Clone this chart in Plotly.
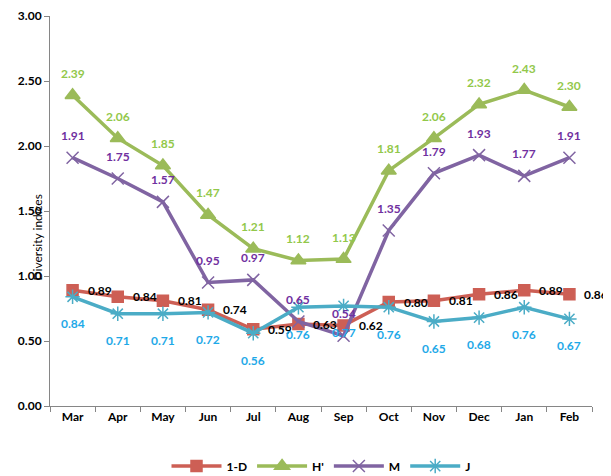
import plotly.graph_objects as go

months = ["Mar", "Apr", "May", "Jun", "Jul", "Aug", "Sep", "Oct", "Nov", "Dec", "Jan", "Feb"]
d1 = [0.89, 0.84, 0.81, 0.74, 0.59, 0.63, 0.62, 0.80, 0.81, 0.86, 0.89, 0.86]
h = [2.39, 2.06, 1.85, 1.47, 1.21, 1.12, 1.13, 1.81, 2.06, 2.32, 2.43, 2.30]
m = [1.91, 1.75, 1.57, 0.95, 0.97, 0.65, 0.54, 1.35, 1.79, 1.93, 1.77, 1.91]
j = [0.84, 0.71, 0.71, 0.72, 0.56, 0.76, 0.77, 0.76, 0.65, 0.68, 0.76, 0.67]
yticks = [0.0, 0.5, 1.0, 1.5, 2.0, 2.5, 3.0]

FONT = "Lato"

series = [
    ("1-D", d1, "#CD5F55", "square", 11, "#000000", 27, 0),
    ("H'", h, "#9BBB59", "triangle-up", 13, "#92C84A", 0, 22),
    ("M", m, "#8064A2", "x-thin-open", 12, "#7030A0", 0, 22),
    ("J", j, "#4BACC6", "asterisk-open", 12, "#1EA9E8", 0, -27),
]

fig = go.Figure()
annotations = []
for name, vals, color, sym, size, lcol, xs, ys in series:
    fig.add_trace(go.Scatter(
        x=months, y=vals, name=name, mode="lines+markers",
        line=dict(color=color, width=3.5),
        marker=dict(symbol=sym, size=size, color=color,
                    line=dict(color=color, width=1.5)),
        cliponaxis=False,
    ))
    for mo, v in zip(months, vals):
        annotations.append(dict(
            x=mo, y=v, xref="x", yref="y", text=f"{v:.2f}", showarrow=False,
            xshift=xs, yshift=ys,
            font=dict(family=FONT, size=12, color=lcol, weight="bold"),
        ))

annotations.append(dict(
    x=-0.041, y=0.433, xref="paper", yref="paper", text="Diversity indices",
    showarrow=False, textangle=-90,
    font=dict(family=FONT, size=12, color="#000000"),
))

# page body has an 8px default margin; size the figure to fit the 611x476 window
fig.update_layout(
    width=603, height=468,
    margin=dict(l=42, r=19, t=8, b=70, autoexpand=False),
    paper_bgcolor="white", plot_bgcolor="white",
    font=dict(family=FONT, size=12, color="#000000"),
    annotations=annotations,
    showlegend=True,
    legend=dict(orientation="h", x=0.5, xanchor="center", y=-0.154, yanchor="middle",
                font=dict(family=FONT, size=12, color="#000000", weight="bold"),
                itemwidth=50, tracegroupgap=0),
)
fig.update_xaxes(
    type="category", range=[-0.5, 11.5], showgrid=False,
    showline=True, linecolor="#868686", linewidth=1,
    ticks="outside", tickson="boundaries", ticklen=5, tickcolor="#868686",
    tickfont=dict(family=FONT, size=12, color="#000000", weight="bold"),
)
fig.update_yaxes(
    range=[0, 3], tickvals=yticks, ticktext=[f"{t:.2f}" for t in yticks],
    showgrid=False, zeroline=False,
    showline=True, linecolor="#868686", linewidth=1,
    ticks="outside", ticklen=5, tickcolor="#868686",
    tickfont=dict(family=FONT, size=12, color="#000000", weight="bold"),
)

fig.write_html("out.html")
